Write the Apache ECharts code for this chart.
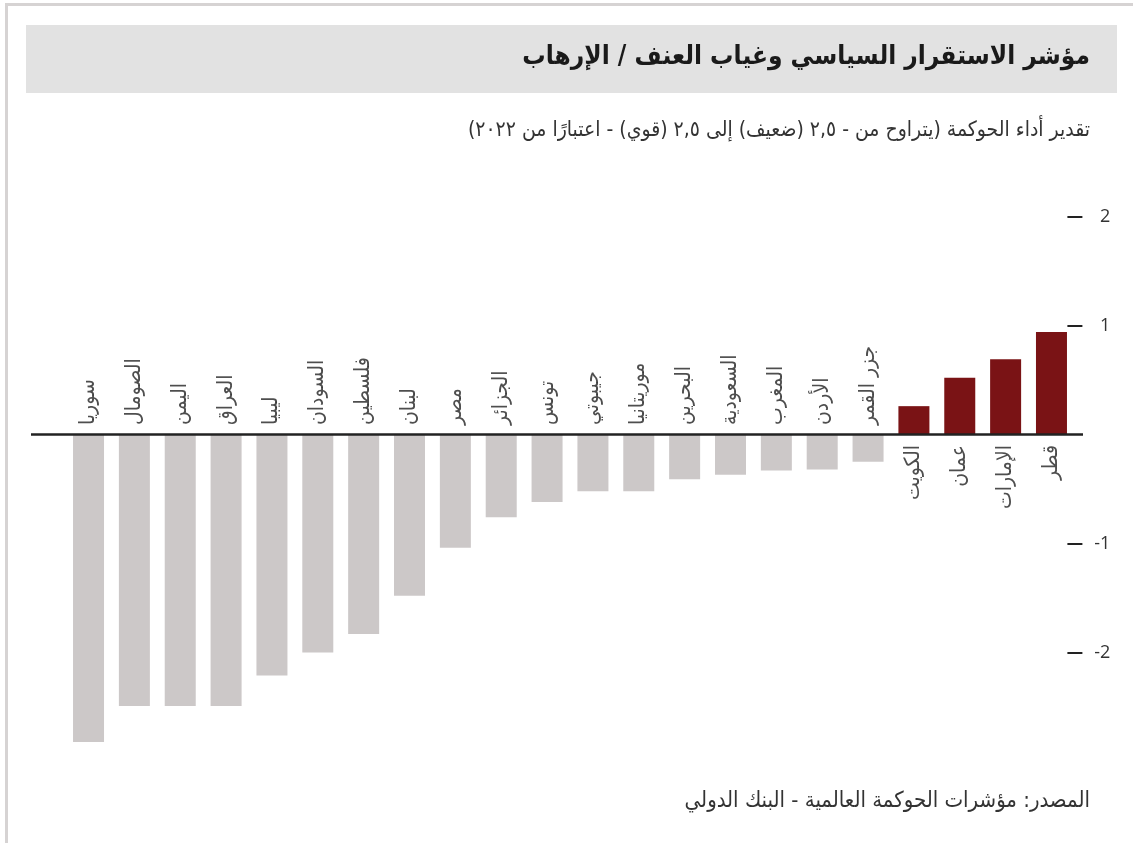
<!DOCTYPE html>
<html>
<head>
<meta charset="utf-8">
<script src="https://cdn.jsdelivr.net/npm/echarts@6/dist/echarts.min.js"></script>
<style>
    html, body { margin: 0; padding: 0; background: #fff; }
    #chart { width: 1133px; height: 843px; }
</style>
</head>
<body>
<div id="chart" dir="rtl"></div>
<script>
// الدول من اليسار إلى اليمين
var countries = ['سوريا', 'الصومال', 'اليمن', 'العراق', 'ليبيا', 'السودان', 'فلسطين', 'لبنان', 'مصر', 'الجزائر', 'تونس',
    'جيبوتي', 'موريتانيا', 'البحرين', 'السعودية', 'المغرب', 'الأردن', 'جزر القمر', 'الكويت', 'عمان', 'الإمارات', 'قطر'];
var scores = [-2.82, -2.49, -2.49, -2.49, -2.21, -2.00, -1.83, -1.48, -1.04, -0.76, -0.62,
    -0.52, -0.52, -0.41, -0.37, -0.33, -0.32, -0.25, 0.26, 0.52, 0.69, 0.94];
var tickValues = [-2, -1, 1, 2];

var titleText = 'مؤشر الاستقرار السياسي وغياب العنف / الإرهاب';
var subText = 'تقدير أداء الحوكمة (يتراوح من - ٢,٥ (ضعيف) إلى ٢,٥ (قوي) - اعتبارًا من ٢٠٢٢)';
var sourceText = 'المصدر: مؤشرات الحوكمة العالمية - البنك الدولي';

var arFont = "'DejaVu Sans Condensed', 'DejaVu Sans', sans-serif";

var chart = echarts.init(document.getElementById('chart'));

var option = {
    backgroundColor: '#fff',
    animation: false,
    title: [
        {
            text: titleText, right: 43, top: 44, padding: 0,
            textStyle: { fontFamily: arFont, fontSize: 26, fontWeight: 'bold', color: '#1a1a1a' }
        },
        {
            text: subText, right: 43, top: 120, padding: 0,
            textStyle: { fontFamily: arFont, fontSize: 21, fontWeight: 'normal', color: '#333' }
        },
        {
            text: sourceText, right: 43, top: 790, padding: 0,
            textStyle: { fontFamily: arFont, fontSize: 22, fontWeight: 'normal', color: '#333' }
        }
    ],
    graphic: [
        { type: 'rect', shape: { x: 6, y: 3, width: 1127, height: 3 }, style: { fill: '#d6d3d3' }, z: 0 },
        { type: 'rect', shape: { x: 5, y: 3, width: 3, height: 840 }, style: { fill: '#d6d3d3' }, z: 0 },
        { type: 'rect', shape: { x: 26, y: 25, width: 1091, height: 68 }, style: { fill: '#e2e2e2' }, z: -1 }
    ],
    grid: { left: 65.6, right: 58.6, top: 216.5, bottom: 81.5, containLabel: false },
    xAxis: {
        type: 'category',
        data: countries,
        axisLine: { show: false },
        axisTick: { show: false },
        axisLabel: { show: false }
    },
    yAxis: {
        type: 'value',
        position: 'right',
        offset: -7,
        min: -3,
        max: 2,
        interval: 1,
        splitLine: { show: false },
        axisLine: { show: false },
        axisTick: {
            show: true, length: 15, customValues: tickValues,
            lineStyle: { color: '#222', width: 2 }
        },
        axisLabel: {
            customValues: tickValues,
            margin: 43,
            align: 'right',
            fontFamily: 'Open Sans',
            fontSize: 18,
            color: '#333',
            formatter: function (v) { return '\u202A' + v + '\u202C'; }
        }
    },
    series: [
        {
            type: 'bar',
            data: scores,
            barWidth: 31,
            itemStyle: {
                color: function (p) { return p.value >= 0 ? '#7a1315' : '#ccc8c8'; }
            }
        },
        {
            // أسماء الدول على الجهة المقابلة للعمود
            type: 'scatter',
            silent: true,
            symbolSize: 1,
            itemStyle: { color: 'transparent' },
            data: scores.map(function (v, i) {
                return {
                    value: 0,
                    label: {
                        position: v < 0 ? 'top' : 'bottom',
                        align: v < 0 ? 'left' : 'right',
                        distance: v < 0 ? 9 : 10
                    }
                };
            }),
            label: {
                show: true,
                rotate: 90,
                verticalAlign: 'middle',
                fontFamily: arFont,
                fontSize: 21,
                color: '#222',
                formatter: function (p) { return countries[p.dataIndex]; }
            }
        }
    ]
};

chart.setOption(option);

// خط الصفر يمتد خارج منطقة الرسم
var y0 = chart.convertToPixel({ yAxisIndex: 0 }, 0);
chart.setOption({
    graphic: option.graphic.concat([
        { type: 'line', shape: { x1: 31, y1: y0, x2: 1083, y2: y0 }, style: { stroke: '#222', lineWidth: 2.5 }, z: 10 }
    ])
});

window.addEventListener('resize', function () {
    chart.resize();
});
</script>
</body>
</html>
